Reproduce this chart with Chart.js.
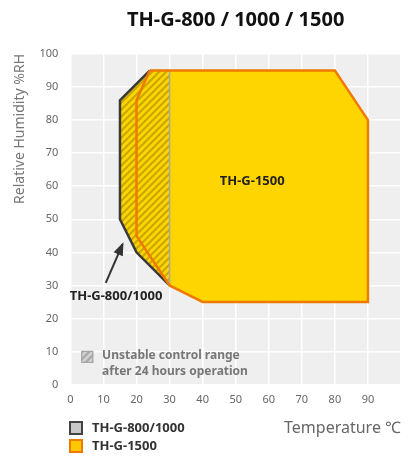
<!DOCTYPE html>
<html>
<head>
<meta charset="utf-8">
<script src="https://cdn.jsdelivr.net/npm/chart.js@4.4.1/dist/chart.umd.min.js"></script>
<style>
  html, body { margin: 0; padding: 0; background: #fff; }
  #wrap { width: 410px; height: 457px; }
</style>
</head>
<body>
<div id="wrap"><canvas id="range-chart"></canvas></div>
<script>
// TH-G-1500 operating range (temperature / humidity)
var temp1500 = [24, 80, 90, 90, 40, 30, 20, 20, 24];
var rh1500   = [95, 95, 80, 25, 25, 30, 45, 86, 95];

// TH-G-800/1000 left edge
var temp800 = [24, 15, 15, 20, 30];
var rh800   = [95, 86, 50, 40, 30];

// unstable (hatched) zone
var tempHatch = [15, 24, 30, 30, 20, 15, 15];
var rhHatch   = [86, 95, 95, 30, 40, 50, 86];

var xTicks = [0, 10, 20, 30, 40, 50, 60, 70, 80, 90];
var legendLabels = ['TH-G-800/1000', 'TH-G-1500'];

function pts(xs, ys) {
    return xs.map(function (x, i) { return {x: x, y: ys[i]}; });
}

var YELLOW = '#FFD500';
var ORANGE = '#F07A00';
var DARK = '#3a3a3a';

function hatch(bg, fg) {
    var c = document.createElement('canvas');
    c.width = 7; c.height = 7;
    var g = c.getContext('2d');
    g.fillStyle = bg;
    g.fillRect(0, 0, 7, 7);
    g.strokeStyle = fg;
    g.lineWidth = 2.2;
    g.beginPath();
    g.moveTo(-1, 8); g.lineTo(8, -1);
    g.moveTo(-1, 1); g.lineTo(1, -1);
    g.moveTo(6, 8); g.lineTo(8, 6);
    g.stroke();
    return g.createPattern(c, 'repeat');
}

var plotBg = {
    id: 'plotBg',
    beforeDraw: function (chart) {
        var a = chart.chartArea, ctx = chart.ctx;
        ctx.save();
        ctx.fillStyle = '#EFEFEF';
        ctx.fillRect(a.left, a.top, a.right - a.left, a.bottom - a.top);
        ctx.restore();
    }
};

var notes = {
    id: 'notes',
    afterDraw: function (chart) {
        var ctx = chart.ctx, xs = chart.scales.x, ys = chart.scales.y;
        function px(v) { return xs.getPixelForValue(v); }
        function py(v) { return ys.getPixelForValue(v); }
        ctx.save();
        ctx.textBaseline = 'middle';

        ctx.fillStyle = '#222';
        ctx.font = 'bold 13px "Noto Sans"';
        ctx.textAlign = 'center';
        ctx.fillText('TH-G-1500', px(55), py(61.5));
        ctx.fillText('TH-G-800/1000', px(13.8), py(26.8));

        // arrow
        var x1 = px(10.7), y1 = py(30.8), x2 = px(15.8), y2 = py(42.5);
        ctx.strokeStyle = '#333';
        ctx.lineWidth = 2;
        ctx.beginPath();
        ctx.moveTo(x1, y1); ctx.lineTo(x2, y2);
        ctx.stroke();
        var ang = Math.atan2(y2 - y1, x2 - x1);
        ctx.fillStyle = '#333';
        ctx.beginPath();
        ctx.moveTo(x2 + 2 * Math.cos(ang), y2 + 2 * Math.sin(ang));
        ctx.lineTo(x2 - 11 * Math.cos(ang) + 5 * Math.sin(ang), y2 - 11 * Math.sin(ang) - 5 * Math.cos(ang));
        ctx.lineTo(x2 - 11 * Math.cos(ang) - 5 * Math.sin(ang), y2 - 11 * Math.sin(ang) + 5 * Math.cos(ang));
        ctx.closePath();
        ctx.fill();

        // unstable range note
        var bx = px(3.3), by = py(10.2);
        ctx.fillStyle = hatch('#D0D0D0', '#A8A8A8');
        ctx.fillRect(bx, by, 12, 12);
        ctx.strokeStyle = '#A0A0A0';
        ctx.lineWidth = 1;
        ctx.strokeRect(bx + 0.5, by + 0.5, 11, 11);
        ctx.fillStyle = '#777';
        ctx.font = 'bold 12px "Noto Sans"';
        ctx.textAlign = 'left';
        ctx.fillText('Unstable control range', px(9.6), py(8.7));
        ctx.fillText('after 24 hours operation', px(9.6), py(3.9));

        // legend
        var lx = 69, ly = [421, 439];
        var fills = ['#C8C8C8', '#FFC800'];
        var edges = ['#444', ORANGE];
        ctx.font = 'bold 13px "Noto Sans"';
        for (var i = 0; i < legendLabels.length; i++) {
            ctx.fillStyle = fills[i];
            ctx.fillRect(lx, ly[i], 13, 13);
            ctx.strokeStyle = edges[i];
            ctx.lineWidth = 2;
            ctx.strokeRect(lx + 1, ly[i] + 1, 12, 12);
            ctx.fillStyle = '#333';
            ctx.fillText(legendLabels[i], lx + 23, ly[i] + 7);
        }
        ctx.restore();
    }
};

var rangeChart = new Chart(document.getElementById('range-chart'), {
    type: 'scatter',
    data: {
        datasets: [{
            label: 'TH-G-1500 border',
            data: pts(temp1500, rh1500),
            showLine: true,
            fill: false,
            borderColor: ORANGE,
            borderWidth: 2.5,
            pointRadius: 0,
            order: 2
        }, {
            label: 'TH-G-800/1000',
            data: pts(temp800, rh800),
            showLine: true,
            fill: false,
            borderColor: DARK,
            borderWidth: 2.5,
            pointRadius: 0,
            order: 3
        }, {
            label: 'unstable',
            data: pts(tempHatch, rhHatch),
            showLine: true,
            fill: 'shape',
            backgroundColor: hatch(YELLOW, '#C9A900'),
            borderColor: '#A8A8A8',
            borderWidth: 1.5,
            pointRadius: 0,
            order: 4
        }, {
            label: 'TH-G-1500',
            data: pts(temp1500, rh1500),
            showLine: true,
            fill: 'shape',
            backgroundColor: YELLOW,
            borderWidth: 0,
            pointRadius: 0,
            order: 5
        }]
    },
    plugins: [plotBg, notes],
    options: {
        responsive: true,
        maintainAspectRatio: false,
        animation: false,
        layout: {
            padding: {left: 13.5, right: 9, bottom: 19, top: 0}
        },
        plugins: {
            legend: {display: false},
            tooltip: {enabled: false},
            title: {
                display: true,
                text: 'TH-G-800 / 1000 / 1500',
                fullSize: false,
                color: '#111',
                font: {family: 'Noto Sans', size: 20, weight: 'bold'},
                padding: {top: 8, bottom: 22}
            }
        },
        scales: {
            x: {
                type: 'linear',
                min: 0,
                max: 100,
                afterBuildTicks: function (axis) {
                    axis.ticks = xTicks.concat([100]).map(function (v) { return {value: v}; });
                },
                ticks: {
                    color: '#666',
                    font: {family: 'Noto Sans', size: 11},
                    padding: 9,
                    callback: function (v) { return xTicks.indexOf(v) >= 0 ? v : ''; }
                },
                grid: {color: '#fff', lineWidth: 1.5, drawTicks: false},
                border: {display: false},
                title: {
                    display: true,
                    text: 'Temperature ℃',
                    align: 'end',
                    color: '#666',
                    font: {family: 'Noto Sans', size: 16},
                    padding: {top: 3, bottom: 0}
                }
            },
            y: {
                min: 0,
                max: 100,
                ticks: {
                    stepSize: 10,
                    color: '#666',
                    font: {family: 'Noto Sans', size: 11},
                    padding: 12
                },
                grid: {color: '#fff', lineWidth: 1.5, drawTicks: false},
                border: {display: false},
                title: {
                    display: true,
                    text: 'Relative Humidity %RH',
                    align: 'end',
                    color: '#777',
                    font: {family: 'Noto Sans', size: 14, lineHeight: 1},
                    padding: {top: 0, bottom: 0}
                }
            }
        }
    }
});
</script>
</body>
</html>
